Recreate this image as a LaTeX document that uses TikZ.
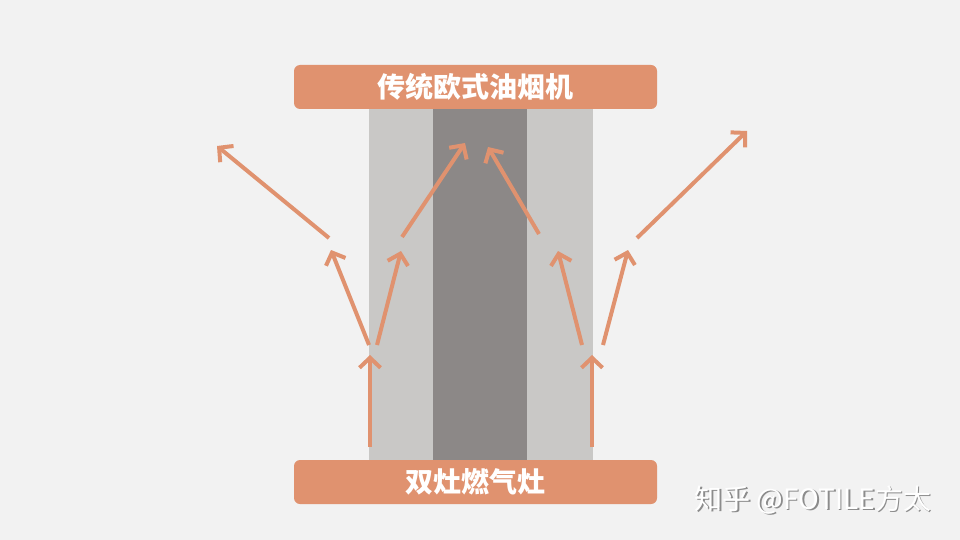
\documentclass[tikz,border=0pt]{standalone}
\usepackage{fontspec}
\newfontfamily\cjk{Noto Sans CJK SC}
\usetikzlibrary{arrows.meta}
\definecolor{bgray}{HTML}{F2F2F2}
\definecolor{salmon}{HTML}{E0926F}
\definecolor{hoodlight}{HTML}{C9C8C6}
\definecolor{hooddark}{HTML}{8C8887}
\tikzset{
  bar/.style={fill=salmon,rounded corners=6pt,minimum width=363pt,minimum height=44pt,
    text=white,font=\cjk\bfseries\fontsize{28}{28}\selectfont,inner sep=0pt},
  flow/.style={draw=salmon,line width=4pt,-{Straight Barb[length=10pt,width=21pt]}},
}
\begin{document}
\begin{tikzpicture}[x=1pt,y=-1pt]
  \fill[bgray] (0,0) rectangle (960,540);
  \useasboundingbox (0,0) rectangle (960,540);
  % hood airflow columns
  \fill[hoodlight] (369,109) rectangle (593,460);
  \fill[hooddark] (433,109) rectangle (527,460);
  \node[bar] (hood) at (475.5,87) {传统欧式油烟机};
  \node[bar] (stove) at (475.5,482) {双灶燃气灶};
  % flow points
  \coordinate (lv0) at (370,447);  \coordinate (lv1) at (370,355);
  \coordinate (rv0) at (592,447);  \coordinate (rv1) at (592,355);
  \coordinate (la0) at (369,345);  \coordinate (la1) at (331,250);
  \coordinate (lb0) at (377,345);  \coordinate (lb1) at (401,251);
  \coordinate (ra0) at (582,345);  \coordinate (ra1) at (558,251);
  \coordinate (rb0) at (603,345);  \coordinate (rb1) at (628,250);
  \coordinate (lc0) at (329,238);  \coordinate (lc1) at (217,146);
  \coordinate (ld0) at (402,237);  \coordinate (ld1) at (465,143);
  \coordinate (rc0) at (539,234);  \coordinate (rc1) at (488,147);
  \coordinate (rd0) at (637,238);  \coordinate (rd1) at (747,131);
  \foreach \arr in {lv,rv,la,lb,ra,rb,lc,ld,rc,rd} {
    \draw[flow] (\arr0) -- (\arr1);
  }
  % watermark
  \node[text=black!45,font=\cjk\fontsize{28}{28}\selectfont] (wmshadow) at (814.5,501.5) {知乎 @FOTILE方太};
  \node[text=white,font=\cjk\fontsize{28}{28}\selectfont] (wm) at (813,500) {知乎 @FOTILE方太};
\end{tikzpicture}
\end{document}
